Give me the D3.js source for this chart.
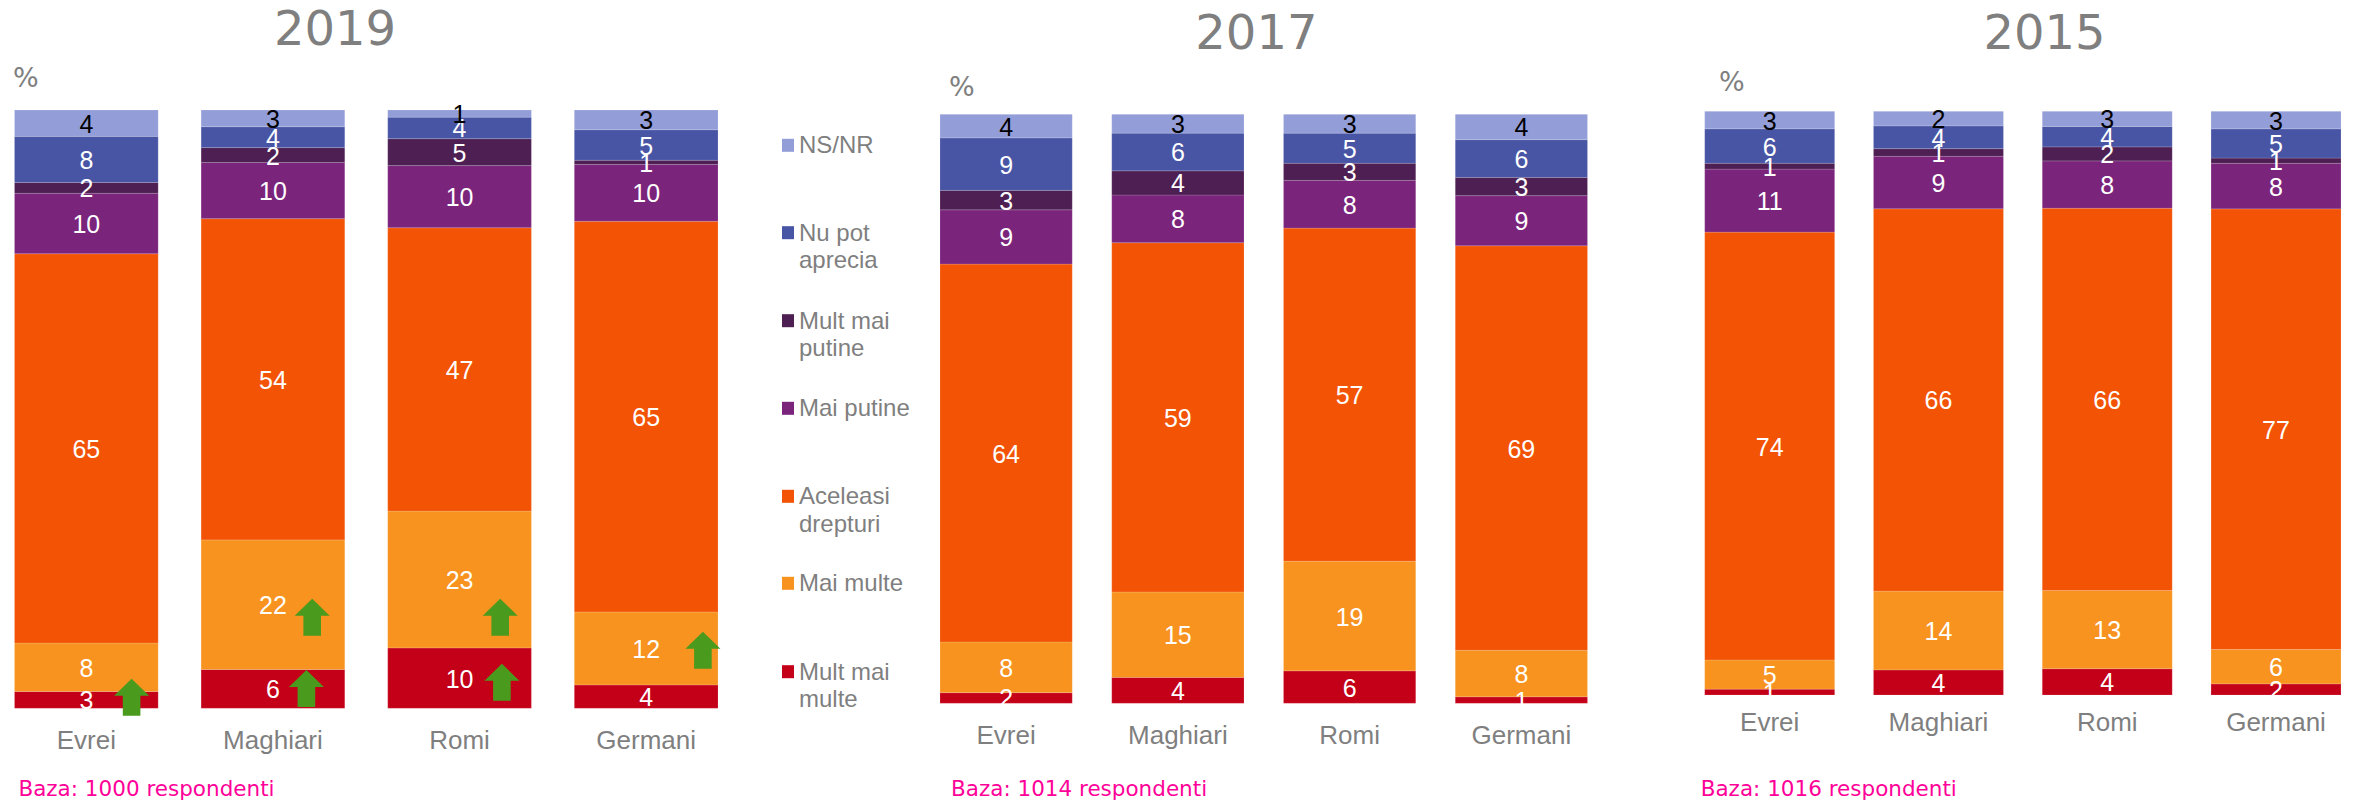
<!DOCTYPE html>
<html>
<head>
<meta charset="utf-8">
<script src="https://cdn.jsdelivr.net/npm/d3@7"></script>
<style>
    html, body { margin: 0; padding: 0; background: #fff; }
    svg { display: block; }
    .year-title { font-family: "DejaVu Sans", sans-serif; font-size: 48px; fill: #7f7f7f; text-anchor: middle; }
    .unit { font-family: "DejaVu Sans", sans-serif; font-size: 27px; fill: #7f7f7f; }
    .base { font-family: "DejaVu Sans", sans-serif; font-size: 21.5px; fill: #ff0099; }
    .seg-label { font-family: "Liberation Sans", sans-serif; font-size: 25px; text-anchor: middle; }
    .legend-text { font-family: "Liberation Sans", sans-serif; font-size: 24px; fill: #7f7f7f; }
    .x-axis text { font-family: "Liberation Sans", sans-serif; font-size: 26px; fill: #7f7f7f; }
</style>
</head>
<body>
<div id="chart"></div>
<script>
const categories = ["Evrei", "Maghiari", "Romi", "Germani"];

// stacking order, bottom to top
const seriesNames = ["Mult mai multe", "Mai multe", "Aceleasi drepturi", "Mai putine", "Mult mai putine", "Nu pot aprecia", "NS/NR"];
const seriesColors = ["#c40018", "#f7931e", "#f25305", "#7b247c", "#4d1f52", "#4855a5", "#939dd8"];
const labelColors = ["#fff", "#fff", "#fff", "#fff", "#fff", "#fff", "#000"];

// bar heights (one row per series, bottom to top)
const values2019 = [
    [2.8, 6.5, 10.1, 3.9],
    [8.1, 21.7, 22.9, 12.2],
    [65.0, 53.8, 47.4, 65.3],
    [10.1, 9.4, 10.4, 9.5],
    [1.8, 2.5, 4.5, 0.7],
    [7.7, 3.5, 3.6, 5.1],
    [4.4, 2.8, 1.2, 3.3]
];
const values2017 = [
    [1.8, 4.4, 5.5, 1.1],
    [8.6, 14.5, 18.6, 7.9],
    [64.1, 59.3, 56.5, 68.6],
    [9.2, 8.1, 8.1, 8.5],
    [3.3, 4.1, 2.9, 3.1],
    [8.9, 6.4, 5.1, 6.4],
    [4.0, 3.2, 3.2, 4.3]
];
const values2015 = [
    [1.0, 4.3, 4.5, 1.9],
    [5.0, 13.5, 13.4, 5.9],
    [73.3, 65.5, 65.5, 75.4],
    [10.8, 9.0, 8.1, 7.8],
    [1.0, 1.3, 2.4, 0.9],
    [5.9, 3.9, 3.5, 5.0],
    [3.0, 2.5, 2.6, 3.0]
];

// printed labels, they do not always round from the bar heights
const labels2019 = [
    [3, 6, 10, 4],
    [8, 22, 23, 12],
    [65, 54, 47, 65],
    [10, 10, 10, 10],
    [2, 2, 5, 1],
    [8, 4, 4, 5],
    [4, 3, 1, 3]
];
const labels2017 = [
    [2, 4, 6, 1],
    [8, 15, 19, 8],
    [64, 59, 57, 69],
    [9, 8, 8, 9],
    [3, 4, 3, 3],
    [9, 6, 5, 6],
    [4, 3, 3, 4]
];
const labels2015 = [
    [1, 4, 4, 2],
    [5, 14, 13, 6],
    [74, 66, 66, 77],
    [11, 9, 8, 8],
    [1, 1, 2, 1],
    [6, 4, 4, 5],
    [3, 2, 3, 3]
];

const legendLines = [["NS/NR"], ["Nu pot", "aprecia"], ["Mult mai", "putine"], ["Mai putine"], ["Aceleasi", "drepturi"], ["Mai multe"], ["Mult mai", "multe"]];
const legendColors = seriesColors.slice().reverse();

var w = 2354;
var h = 802;

var svg = d3.select("#chart").append("svg")
    .attr("width", w)
    .attr("height", h);

function drawPanel(p) {
    var x = d3.scaleBand().domain(categories).range([p.left, p.right]).paddingInner(0.23).paddingOuter(0);
    var y = d3.scaleLinear().domain([0, 1]).range([p.bottom, p.top]);

    var rows = categories.map((c, i) => {
        var row = { category: c };
        seriesNames.forEach((s, j) => { row[s] = p.values[j][i]; });
        return row;
    });
    var stacked = d3.stack().keys(seriesNames).offset(d3.stackOffsetExpand)(rows);

    var g = svg.append("g");

    g.selectAll("g.layer")
        .data(stacked)
        .join("g")
        .attr("class", "layer")
        .attr("fill", (d, j) => seriesColors[j])
        .selectAll("rect")
        .data(d => d)
        .join("rect")
        .attr("x", d => x(d.data.category))
        .attr("y", d => y(d[1]))
        .attr("width", x.bandwidth())
        .attr("height", d => y(d[0]) - y(d[1]))
        .attr("stroke", "rgba(255,255,255,0.15)")
        .attr("stroke-width", 1);

    // labels go after all the rects so neighbours don't cover them
    stacked.forEach((layer, j) => {
        g.selectAll("text.s" + j)
            .data(layer)
            .join("text")
            .attr("class", "seg-label s" + j)
            .attr("x", d => x(d.data.category) + x.bandwidth() / 2)
            .attr("y", d => y((d[0] + d[1]) / 2))
            .attr("dy", "0.38em")
            .attr("fill", labelColors[j])
            .text((d, i) => p.labels[j][i]);
    });

    var axis = g.append("g")
        .attr("class", "x-axis")
        .attr("transform", `translate(0,${p.bottom})`)
        .call(d3.axisBottom(x).tickSize(0).tickPadding(p.tickPadding));
    axis.select(".domain").remove();

    svg.append("text").attr("class", "year-title").attr("x", p.titleX).attr("y", p.titleY).text(p.year);
    svg.append("text").attr("class", "unit").attr("x", p.unitX).attr("y", p.unitY).text("%");
    svg.append("text").attr("class", "base").attr("x", p.baseX).attr("y", 795.5).text(p.base);
}

drawPanel({
    year: "2019", base: "Baza: 1000 respondenti", values: values2019, labels: labels2019,
    left: 14.5, right: 718, top: 110, bottom: 708.3, tickPadding: 22,
    titleX: 335, titleY: 45, unitX: 13, unitY: 87, baseX: 18.4
});
drawPanel({
    year: "2017", base: "Baza: 1014 respondenti", values: values2017, labels: labels2017,
    left: 940, right: 1587.5, top: 114.3, bottom: 703.3, tickPadding: 22,
    titleX: 1256.4, titleY: 49, unitX: 949, unitY: 96, baseX: 951
});
drawPanel({
    year: "2015", base: "Baza: 1016 respondenti", values: values2015, labels: labels2015,
    left: 1704.7, right: 2341, top: 111.3, bottom: 695, tickPadding: 18,
    titleX: 2044.5, titleY: 49.3, unitX: 1719, unitY: 91, baseX: 1700.7
});

// legend, spacing is uneven in the original
var legendY = [145.3, 232.7, 320.7, 408.3, 496.3, 583.3, 671.7];
var legend = svg.append("g");
legendLines.forEach((lines, i) => {
    legend.append("rect")
        .attr("x", 782)
        .attr("y", legendY[i] - 6.5)
        .attr("width", 12)
        .attr("height", 13)
        .attr("fill", legendColors[i]);
    lines.forEach((line, k) => {
        legend.append("text")
            .attr("class", "legend-text")
            .attr("x", 799)
            .attr("y", legendY[i] + 8 + k * 27.7)
            .text(line);
    });
});

// green arrows on the 2019 panel: centre x and tip y
var arrowSpots = [[131.6, 678.7], [312.2, 598.7], [306.4, 670], [500.2, 598.7], [501.9, 663.7], [702.9, 631.7]];
var arrowShape = [[0, 0], [17.5, 17], [8.8, 17], [8.8, 37], [-8.8, 37], [-8.8, 17], [-17.5, 17]];
svg.append("g").selectAll("path")
    .data(arrowSpots)
    .join("path")
    .attr("d", d3.line()(arrowShape) + "Z")
    .attr("transform", d => `translate(${d[0]},${d[1]})`)
    .attr("fill", "#4a9a1e");
</script>
</body>
</html>
